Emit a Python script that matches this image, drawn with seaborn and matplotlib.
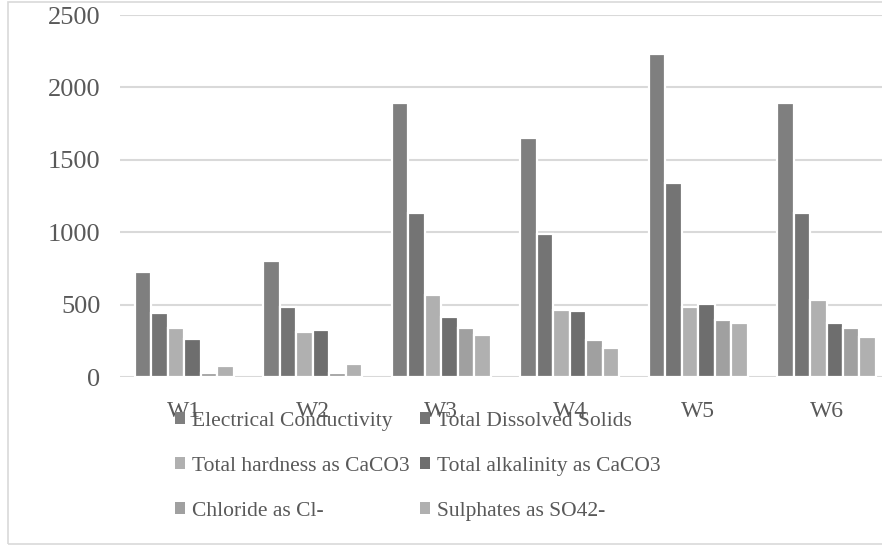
import matplotlib
matplotlib.use("Agg")
import matplotlib.pyplot as plt
import seaborn as sns
import pandas as pd
from matplotlib.patches import Patch, Rectangle

wells = ["W1", "W2", "W3", "W4", "W5", "W6"]
parameters = ["Electrical Conductivity", "Total Dissolved Solids",
              "Total hardness as CaCO3", "Total alkalinity as CaCO3",
              "Chloride as Cl-", "Sulphates as SO42-"]
electrical_conductivity = [723, 801, 1892, 1650, 2233, 1890]
total_dissolved_solids = [440, 481, 1136, 991, 1342, 1135]
total_hardness = [338, 311, 568, 461, 486, 532]
total_alkalinity = [265, 322, 412, 454, 504, 375]
chloride = [25, 28, 336, 253, 391, 338]
sulphates = [78, 90, 290, 200, 371, 276]
colors = ["#7f7f7f", "#747474", "#b0b0b0", "#6e6e6e", "#a0a0a0", "#b0b0b0"]
y_ticks = [0, 500, 1000, 1500, 2000, 2500]

series = [electrical_conductivity, total_dissolved_solids, total_hardness,
          total_alkalinity, chloride, sulphates]
rows = []
for p, vals in zip(parameters, series):
    for w, v in zip(wells, vals):
        rows.append({"Well": w, "Parameter": p, "Value": v})
df = pd.DataFrame(rows)

sns.set_theme(style="white")
plt.rcParams["font.family"] = ["Liberation Serif", "DejaVu Serif"]

fig = plt.figure(figsize=(8.82, 5.46), dpi=100)
ax = fig.add_axes([120 / 882, 1 - 377 / 546, 1 - 120 / 882, (377 - 15) / 546])

sns.barplot(data=df, x="Well", y="Value", hue="Parameter", order=wells,
            hue_order=parameters, palette=colors, width=0.77,
            edgecolor="white", linewidth=1.6, ax=ax, legend=False)

ax.set_ylim(0, 2500)
ax.set_xlim(-0.5, 5.432)
ax.set_yticks(y_ticks)
ax.yaxis.grid(True, color="#d9d9d9", linewidth=1.5)
ax.set_axisbelow(True)
for s in ax.spines.values():
    s.set_visible(False)
ax.tick_params(axis="y", length=0, pad=14, labelsize=19, labelcolor="#595959")
ax.tick_params(axis="x", length=0, pad=17, labelsize=17, labelcolor="#595959")
ax.set_xlabel("")
ax.set_ylabel("")

# row-wise legend order: col1 = items 0,2,4 ; col2 = items 1,3,5
order = [0, 2, 4, 1, 3, 5]
handles = [Patch(facecolor=colors[i], edgecolor="none") for i in order]
labels = [parameters[i] for i in order]
leg = fig.legend(handles, labels, ncol=2, loc="upper left",
                 bbox_to_anchor=(175 / 882, 1 - 412 / 546), frameon=False,
                 fontsize=15.5, handlelength=0.47, handleheight=0.47,
                 handletextpad=0.3, columnspacing=0.5, labelspacing=1.2,
                 borderpad=0, borderaxespad=0)
for t in leg.get_texts():
    t.set_color("#595959")

fig.patches.append(Rectangle((8 / 882, 2 / 546), 1.2, 1 - 3.5 / 546,
                             transform=fig.transFigure, fill=False,
                             edgecolor="#d9d9d9", linewidth=1.2, zorder=0))

fig.savefig("out.png", dpi=100)
